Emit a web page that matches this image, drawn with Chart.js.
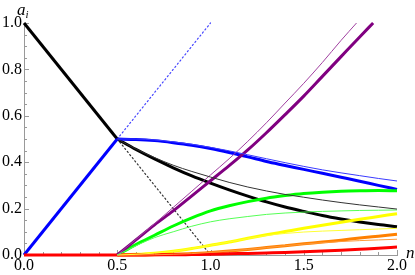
<!DOCTYPE html>
<html><head><meta charset="utf-8">
<script src="https://cdn.jsdelivr.net/npm/chart.js@4"></script>
<style>
html,body{margin:0;padding:0;background:#fff;}
#wrap{position:relative;width:415px;height:275px;overflow:hidden;}
canvas{display:block;}
.lab{position:absolute;font-family:"Liberation Serif","DejaVu Serif",serif;font-style:italic;font-size:17px;color:#000;line-height:1;white-space:nowrap;}
.lab sub{font-size:11px;vertical-align:-3px;line-height:0;}
</style></head><body>
<div id="wrap"><canvas id="c" width="415" height="275"></canvas>
<div class="lab" style="left:17px;top:1px;">a<sub>i</sub></div>
<div class="lab" style="left:406px;top:244px;">n</div>
</div>
<script>
// ---- data ----
const nLin = [0, 0.5];
const blackLin = [1.0, 0.5];
const blueLin = [0.0, 0.5];

const nDot = [0.5, 1.0];
const blueDot = [0.5, 1.0];
const blackDot = [0.5, 0.0];

const nCurve = [0.5,0.6,0.7,0.8,0.9,1.0,1.1,1.2,1.3,1.4,1.5,1.6,1.7,1.8,1.9,2.0];
const blackThick = [0.5,0.455,0.414,0.376,0.341,0.310,0.281,0.254,0.229,0.207,0.188,0.170,0.155,0.142,0.131,0.122];
const blackThin  = [0.5,0.457,0.420,0.387,0.360,0.336,0.313,0.293,0.276,0.261,0.249,0.237,0.226,0.216,0.207,0.198];
const blueThick  = [0.5,0.498,0.493,0.484,0.473,0.459,0.442,0.423,0.403,0.386,0.369,0.352,0.335,0.318,0.300,0.283];
const blueThin   = [0.5,0.500,0.496,0.488,0.477,0.464,0.449,0.432,0.415,0.398,0.382,0.367,0.354,0.342,0.330,0.319];
const greenThick = [0,0.045,0.085,0.125,0.160,0.190,0.212,0.230,0.245,0.256,0.265,0.271,0.275,0.277,0.278,0.277];
const greenThin  = [0,0.040,0.075,0.100,0.124,0.143,0.156,0.166,0.175,0.181,0.185,0.188,0.190,0.192,0.193,0.194];
const yellowThick= [0,0.003,0.008,0.016,0.028,0.042,0.056,0.072,0.087,0.101,0.115,0.128,0.141,0.154,0.166,0.178];
const yellowThin = [0,0.003,0.008,0.016,0.028,0.042,0.056,0.071,0.084,0.093,0.099,0.103,0.106,0.109,0.112,0.115];
const orangeThick= [0,0,0.001,0.003,0.006,0.011,0.017,0.024,0.032,0.040,0.048,0.056,0.064,0.073,0.081,0.089];
const orangeThin = [0,0,0.001,0.003,0.006,0.011,0.017,0.024,0.032,0.040,0.047,0.053,0.058,0.062,0.065,0.068];

const nRed = [0,0.5,0.6,0.7,0.8,0.9,1.0,1.1,1.2,1.3,1.4,1.5,1.6,1.7,1.8,1.9,2.0];
const redThick = [0,0,0,0.001,0.001,0.002,0.003,0.005,0.007,0.009,0.011,0.014,0.017,0.021,0.025,0.029,0.034];

const nPurple = [0.5,0.6,0.7,0.8,0.9,1.0,1.1,1.2,1.3,1.4,1.5,1.6,1.7,1.8,1.872];
const purpleThick = [0,0.065,0.13,0.19,0.255,0.32,0.385,0.453,0.527,0.605,0.685,0.77,0.855,0.94,1.0];
const nPurpleThin = [0.5,0.6,0.7,0.8,0.9,1.0,1.1,1.2,1.3,1.4,1.5,1.6,1.7,1.783];
const purpleThin = [0,0.067,0.135,0.205,0.275,0.345,0.415,0.49,0.57,0.655,0.74,0.83,0.925,1.0];

const xTickLabels = [0, 0.5, 1.0, 1.5, 2.0];
const yTickLabels = [0, 0.2, 0.4, 0.6, 0.8, 1.0];

// ---- helpers ----
const pts = (xs, ys) => xs.map((x, i) => ({x, y: ys[i]}));
function ds(xs, ys, color, width, order, extra) {
  return Object.assign({
    data: pts(xs, ys), borderColor: color, borderWidth: width, order: order,
    pointRadius: 0, fill: false, clip: false, cubicInterpolationMode: 'monotone'
  }, extra || {});
}

const tickPlugin = {
  id: 'mticks',
  beforeDatasetsDraw(chart) {
    const {ctx, scales: {x, y}} = chart;
    ctx.save();
    ctx.strokeStyle = '#999';
    ctx.lineWidth = 1;
    const yb = y.getPixelForValue(0), xl = x.getPixelForValue(0);
    for (let i = 0; i <= 20; i++) {
      const v = i / 10, px = Math.round(x.getPixelForValue(v)) + 0.5;
      const len = (i % 5 === 0) ? 5 : 3;
      ctx.beginPath(); ctx.moveTo(px, yb); ctx.lineTo(px, yb - len); ctx.stroke();
    }
    for (let i = 0; i <= 20; i++) {
      const v = i / 20, py = Math.round(y.getPixelForValue(v)) + 0.5;
      const len = (i % 4 === 0) ? 5 : 3;
      ctx.beginPath(); ctx.moveTo(xl, py); ctx.lineTo(xl + len, py); ctx.stroke();
    }
    ctx.restore();
  }
};

const tickFont = {family: '"Liberation Serif", "DejaVu Serif", serif', size: 16};
const dotted = {tension: 0, cubicInterpolationMode: 'default', borderDash: [1.3, 2.7], borderCapStyle: 'round'};

new Chart(document.getElementById('c'), {
  type: 'line',
  data: {
    datasets: [
      ds(nCurve, blueThin, '#3a3aff', 1, 1),
      ds(nCurve, blackThin, '#333333', 1, 1),
      ds(nCurve, greenThin, '#55ff55', 1, 1),
      ds(nCurve, yellowThin, '#ffff33', 1, 1),
      ds(nCurve, orangeThin, '#ff9a3a', 1, 1),
      ds(nPurpleThin, purpleThin, '#a040a0', 1, 1),
      ds(nPurple, purpleThick, '#800080', 3, 2),
      ds(nRed, redThick, '#ff0000', 3, 3),
      ds(nCurve, orangeThick, '#ff8000', 3, 4),
      ds(nCurve, yellowThick, '#ffff00', 3, 5),
      ds(nCurve, greenThick, '#00ff00', 3, 6),
      ds(nCurve, blueThick, '#0000ff', 3, 7),
      ds(nLin, blueLin, '#0000ff', 3, 7, {tension: 0, cubicInterpolationMode: 'default'}),
      ds(nCurve, blackThick, '#000000', 3, 8),
      ds(nLin, blackLin, '#000000', 3, 8, {tension: 0, cubicInterpolationMode: 'default'}),
      ds(nDot, blueDot, '#4646ff', 1.2, 9, dotted),
      ds(nDot, blackDot, '#333333', 1.2, 9, dotted)
    ]
  },
  options: {
    responsive: false, animation: false, devicePixelRatio: 1,
    layout: {padding: {top: 23, right: 18, left: 0, bottom: 0}},
    plugins: {legend: {display: false}, tooltip: {enabled: false}},
    scales: {
      x: {
        type: 'linear', min: 0, max: 2,
        grid: {display: false, drawTicks: false},
        border: {display: true, color: '#999', width: 1},
        afterBuildTicks: s => { s.ticks = xTickLabels.map(v => ({value: v})); },
        afterFit: s => { s.height = 20; },
        ticks: {callback: v => v.toFixed(1), font: tickFont, color: '#000', padding: 1, maxRotation: 0, autoSkip: false}
      },
      y: {
        type: 'linear', min: 0, max: 1,
        grid: {display: false, drawTicks: false},
        border: {display: true, color: '#999', width: 1},
        afterBuildTicks: s => { s.ticks = yTickLabels.map(v => ({value: v})); },
        afterFit: s => { s.width = 24; },
        ticks: {callback: v => v.toFixed(1), font: tickFont, color: '#000', padding: 2, autoSkip: false}
      }
    }
  },
  plugins: [tickPlugin]
});
</script>
</body></html>
